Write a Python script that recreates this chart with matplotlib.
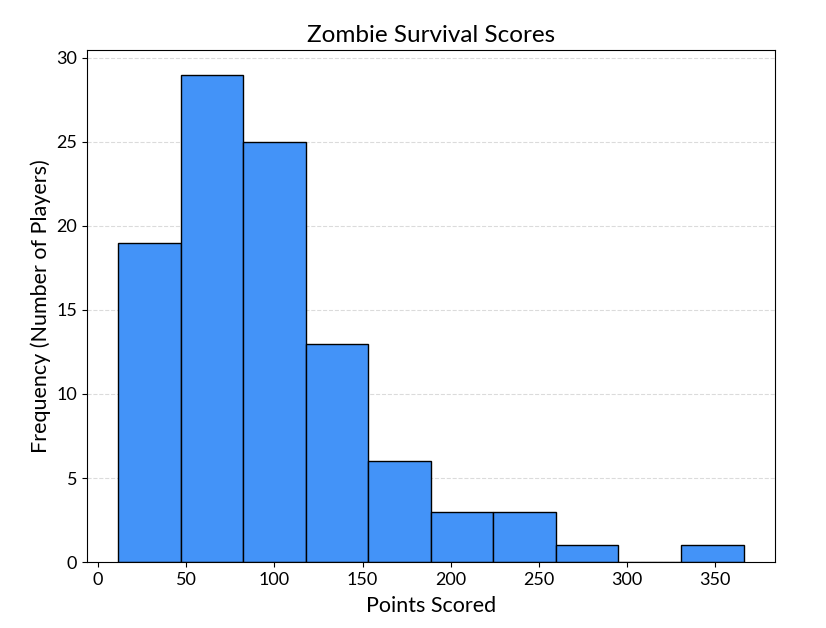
import matplotlib
matplotlib.use("Agg")
import matplotlib.pyplot as plt

# histogram
bin_edges = [11.3, 46.8, 82.2, 117.7, 153.2, 188.6, 224.1, 259.6, 295.1, 330.5, 366.0]
counts = [19, 29, 25, 13, 6, 3, 3, 1, 0, 1]

plt.rcParams['font.family'] = ['Lato', 'DejaVu Sans']

fig = plt.figure(figsize=(8.26, 6.28), dpi=100)
ax = fig.add_axes([0.105, 0.105, 0.833, 0.815])

ax.hist(bin_edges[:-1], bins=bin_edges, weights=counts,
        color='#4393F8', edgecolor='black', linewidth=1.0, zorder=2)

ax.set_title('Zombie Survival Scores', fontsize=17.5)
ax.set_xlabel('Points Scored', fontsize=15.5, labelpad=6)
ax.set_ylabel('Frequency (Number of Players)', fontsize=15.5)
ax.tick_params(labelsize=13)
ax.grid(axis='y', linestyle='--', alpha=0.7, color='#cccccc', zorder=0)
ax.set_axisbelow(True)

fig.savefig('out.png', dpi=100)
